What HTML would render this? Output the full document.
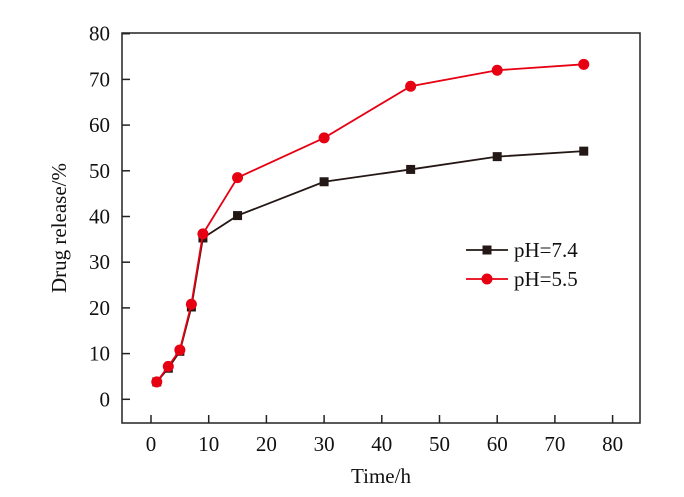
<!DOCTYPE html>
<html><head><meta charset="utf-8"><style>
body{margin:0;background:#fff}
svg text{font-family:"Liberation Serif",serif;fill:#111}
</style></head><body>
<svg width="684" height="492" xmlns="http://www.w3.org/2000/svg">
<g id="g"></g>
</svg>
<script>
const times=[1,3,5,7,9,15,30,45,60,75];
const ph74=[3.8,6.8,10.5,20.2,35.3,40.2,47.6,50.3,53.1,54.3];
const ph55=[3.8,7.2,10.8,20.8,36.2,48.5,57.2,68.5,72.0,73.3];
const xTicks=[0,10,20,30,40,50,60,70,80];
const yTicks=[0,10,20,30,40,50,60,70,80];
const L=122,R=640,T=33,B=423;
const x=v=>151+v*5.77;
const y=v=>399.3-v*4.57;
const g=document.getElementById('g');
const NS='http://www.w3.org/2000/svg';
function mk(t,a){const e=document.createElementNS(NS,t);for(const k in a)e.setAttribute(k,a[k]);g.appendChild(e);return e;}
let f=mk('rect',{x:L,y:T,width:R-L,height:B-T,fill:'none',stroke:'#222','stroke-width':1.5});


yTicks.forEach(v=>{
 let l=mk('line',{x1:L,x2:L+8,y1:y(v),y2:y(v),stroke:'#222','stroke-width':1.5});
 
 
 let t=mk('text',{x:L-12,y:y(v)+7,'text-anchor':'end','font-size':21});
 t.textContent=v;
 
 
});
xTicks.forEach(v=>{
 let l=mk('line',{x1:x(v),x2:x(v),y1:B,y2:B-8,stroke:'#222','stroke-width':1.5});
 
 
 let t=mk('text',{x:x(v),y:B+28,'text-anchor':'middle','font-size':21});
 t.textContent=v;
 
 
});
let xt=mk('text',{x:381,y:483,'text-anchor':'middle','font-size':21});
xt.textContent='Time/h';


let yt=mk('text',{x:66,y:228,'text-anchor':'middle','font-size':21,transform:'rotate(-90 66 228)'});
yt.textContent='Drug release/%';


function series(vals,color,sq,name){
 let p=mk('polyline',{points:times.map((t,i)=>x(t)+','+y(vals[i])).join(' '),fill:'none',stroke:color,'stroke-width':1.8});
 
 
 times.forEach((t,i)=>{
  let m=sq?mk('rect',{x:x(t)-4.5,y:y(vals[i])-4.5,width:9,height:9,fill:color}):mk('circle',{cx:x(t),cy:y(vals[i]),r:5.5,fill:color});
  
  
 });
}
series(ph74,'#231815',true,'ph-7-4');
series(ph55,'#e60012',false,'ph-5-5');
[['pH=7.4','#231815',true,250],['pH=5.5','#e60012',false,279]].forEach(([lab,c,sq,yy])=>{
 let l=mk('line',{x1:466,x2:508,y1:yy,y2:yy,stroke:c,'stroke-width':1.8});
 
 
 let m=sq?mk('rect',{x:482.5,y:yy-4.5,width:9,height:9,fill:c}):mk('circle',{cx:487,cy:yy,r:5.5,fill:c});
 
 
 let t=mk('text',{x:514,y:yy+7,'font-size':21});
 t.textContent=lab;
 
 
});
</script>
</body></html>
